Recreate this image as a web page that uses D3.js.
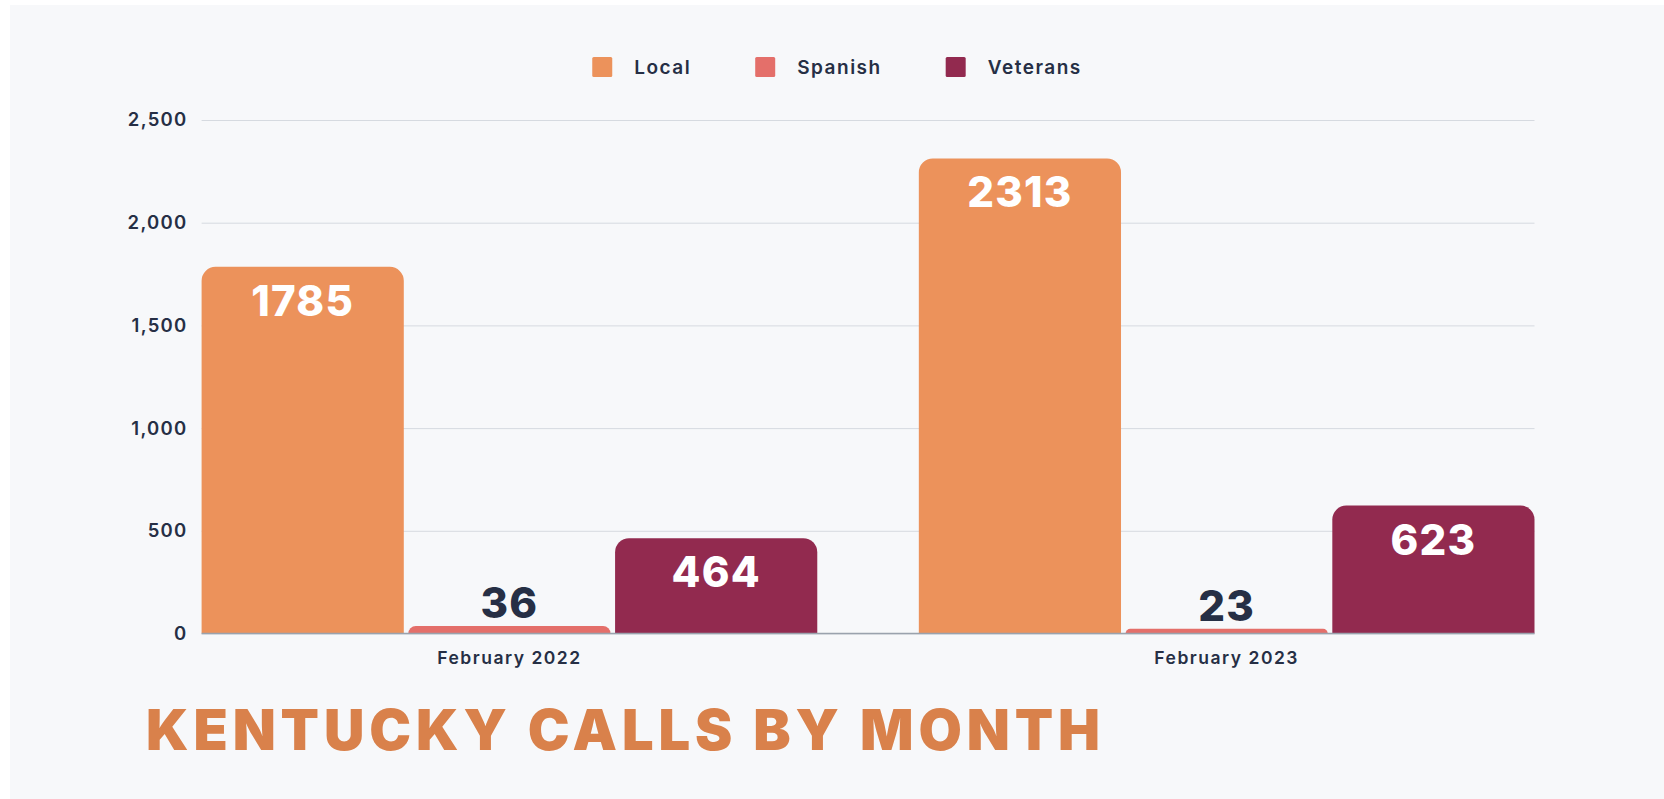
<!DOCTYPE html>
<html>
<head>
<meta charset="utf-8">
<script src="https://cdn.jsdelivr.net/npm/d3@7"></script>
<style>
  html, body { margin: 0; padding: 0; background: #ffffff; }
  svg { display: block; }
</style>
</head>
<body>
<svg id="chart" width="1664" height="799"></svg>
<script>
// ---- data ----
const categories = ["February 2022", "February 2023"];
const seriesNames = ["Local", "Spanish", "Veterans"];
const localValues = [1785, 2313];
const spanishValues = [36, 23];
const veteransValues = [464, 623];
const yTickValues = [0, 500, 1000, 1500, 2000, 2500];
const titleText = "KENTUCKY CALLS BY MONTH";

// ---- styles ----
const colors = { Local: "#EC925B", Spanish: "#E46F6A", Veterans: "#922A4F" };
const textDark = "#262F45";
const font = "Inter, 'Noto Sans', sans-serif";

const W = 1664, H = 799;
const plot = { left: 201.6, right: 1534.5, top: 120, bottom: 633.5 };

const svg = d3.select("#chart");
svg.append("rect").attr("x", 10).attr("y", 5).attr("width", W - 10).attr("height", H - 5).attr("fill", "#F7F8FA");

const valuesBySeries = { Local: localValues, Spanish: spanishValues, Veterans: veteransValues };
const rows = categories.map((c, i) => ({
  category: c,
  bars: seriesNames.map(s => ({ series: s, value: valuesBySeries[s][i] }))
}));

const y = d3.scaleLinear().domain([0, 2500]).range([plot.bottom, plot.top]);
const x0 = d3.scaleBand().domain(categories).range([plot.left, plot.right]).paddingInner(0.1416).paddingOuter(0);
const x1 = d3.scaleBand().domain(seriesNames).range([0, x0.bandwidth()]).paddingInner(0.022);

// gridlines + y labels
const yAxis = svg.append("g")
  .attr("transform", `translate(${plot.left},0)`)
  .call(d3.axisLeft(y).tickValues(yTickValues).tickFormat(d3.format(","))
    .tickSize(-(plot.right - plot.left)).tickPadding(14));
yAxis.select(".domain").remove();
yAxis.selectAll(".tick line").attr("stroke", "#D6DAE0").attr("stroke-width", 1);
yAxis.selectAll(".tick text")
  .attr("font-family", font).attr("font-weight", 600).attr("font-size", 18.5)
  .attr("fill", textDark).attr("letter-spacing", 1.3);

// bars with rounded top corners
function topRounded(x, yTop, w, h, r) {
  r = Math.min(r, h, w / 2);
  const p = d3.path();
  p.moveTo(x, yTop + h);
  p.lineTo(x, yTop + r);
  p.arcTo(x, yTop, x + r, yTop, r);
  p.lineTo(x + w - r, yTop);
  p.arcTo(x + w, yTop, x + w, yTop + r, r);
  p.lineTo(x + w, yTop + h);
  p.closePath();
  return p.toString();
}

const groups = svg.append("g").selectAll("g").data(rows).join("g")
  .attr("transform", d => `translate(${x0(d.category)},0)`);

groups.selectAll("path").data(d => d.bars).join("path")
  .attr("d", d => topRounded(x1(d.series), y(d.value), x1.bandwidth(), y(0) - y(d.value), 14))
  .attr("fill", d => colors[d.series]);

// value labels
groups.selectAll("text.val").data(d => d.bars).join("text")
  .attr("class", "val")
  .attr("x", d => x1(d.series) + x1.bandwidth() / 2)
  .attr("y", d => (y(0) - y(d.value)) > 70 ? y(d.value) + 49 : y(d.value) - 8)
  .attr("text-anchor", "middle")
  .attr("font-family", font).attr("font-weight", 800).attr("font-size", 42)
  .attr("letter-spacing", 1.2)
  .attr("fill", d => (y(0) - y(d.value)) > 70 ? "#ffffff" : textDark)
  .text(d => d.value);

// baseline
svg.append("line")
  .attr("x1", plot.left).attr("x2", plot.right)
  .attr("y1", y(0)).attr("y2", y(0))
  .attr("stroke", "#9AA2AD").attr("stroke-width", 1.5);

// x axis labels
const xAxis = svg.append("g")
  .attr("transform", `translate(0,${plot.bottom})`)
  .call(d3.axisBottom(x0).tickSize(0).tickPadding(18));
xAxis.select(".domain").remove();
xAxis.selectAll(".tick text")
  .attr("font-family", font).attr("font-weight", 600).attr("font-size", 17.5)
  .attr("fill", textDark).attr("letter-spacing", 1.5);

// legend
const legend = svg.append("g").attr("transform", "translate(0,67)");
const items = legend.selectAll("g").data(seriesNames).join("g");
items.append("rect").attr("width", 20).attr("height", 20).attr("y", -10).attr("rx", 1.5)
  .attr("fill", d => colors[d]);
items.append("text").attr("x", 42).attr("dy", "0.35em")
  .attr("font-family", font).attr("font-weight", 600).attr("font-size", 19)
  .attr("fill", textDark).attr("letter-spacing", 1.5)
  .text(d => d);
let widths = [];
items.each(function () { widths.push(this.getBBox().width); });
const gap = 64;
const total = d3.sum(widths) + gap * (widths.length - 1);
let cx = 837 - total / 2;
items.attr("transform", (d, i) => { const t = `translate(${cx},0)`; cx += widths[i] + gap; return t; });

// title
svg.append("text")
  .attr("x", 146).attr("y", 750)
  .attr("font-family", font).attr("font-weight", 900).attr("font-size", 56)
  .attr("fill", "#D9814B")
  .attr("textLength", 954).attr("lengthAdjust", "spacing")
  .text(titleText);
</script>
</body>
</html>
